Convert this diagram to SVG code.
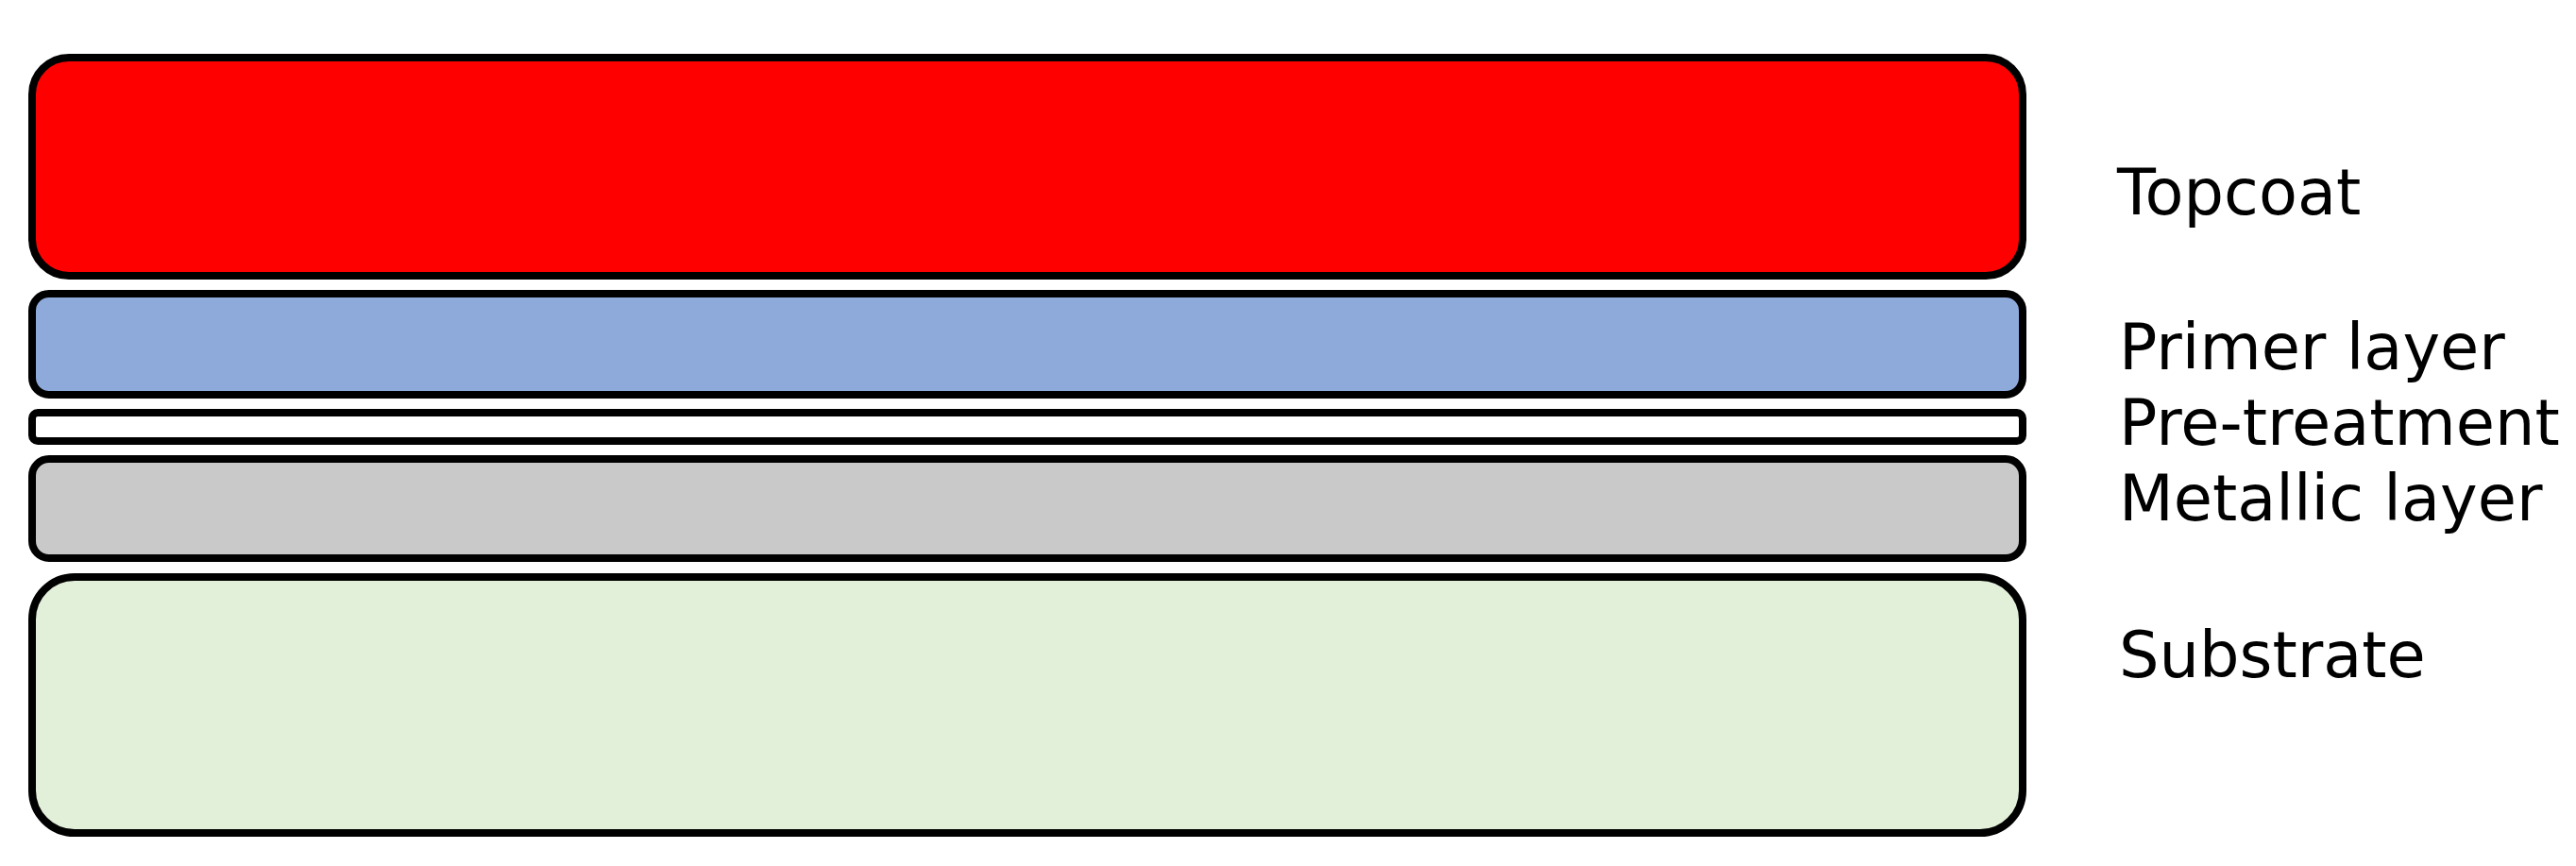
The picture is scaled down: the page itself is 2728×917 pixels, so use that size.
<svg xmlns="http://www.w3.org/2000/svg" width="2728" height="917" viewBox="0 0 2728 917">
<style>
.layer{stroke:#000;stroke-width:8}
.lbl{font-family:"DejaVu Sans","Liberation Sans",sans-serif;font-size:67px;fill:#000}
</style>
<rect width="2728" height="917" fill="#fff"/>
<g id="topcoat">
<rect class="layer" x="34" y="61" width="2108" height="231" rx="39" ry="39" fill="#ff0000"/>
<text class="lbl" x="2242" y="227">Topcoat</text>
</g>
<g id="primer">
<rect class="layer" x="34" y="311" width="2108" height="107" rx="18" ry="18" fill="#8eaadb"/>
<text class="lbl" x="2244" y="391">Primer layer</text>
</g>
<g id="pretreatment">
<rect class="layer" x="34" y="437" width="2108" height="30" rx="6" ry="6" fill="#ffffff"/>
<text class="lbl" x="2244" y="471">Pre-treatment</text>
</g>
<g id="metallic">
<rect class="layer" x="34" y="486" width="2108" height="105" rx="18" ry="18" fill="#c9c9c9"/>
<text class="lbl" x="2244" y="551">Metallic layer</text>
</g>
<g id="substrate">
<rect class="layer" x="34" y="611" width="2108" height="271" rx="45" ry="45" fill="#e2efd9"/>
<text class="lbl" x="2244" y="717">Substrate</text>
</g>
<g id="connectors"></g>
</svg>
